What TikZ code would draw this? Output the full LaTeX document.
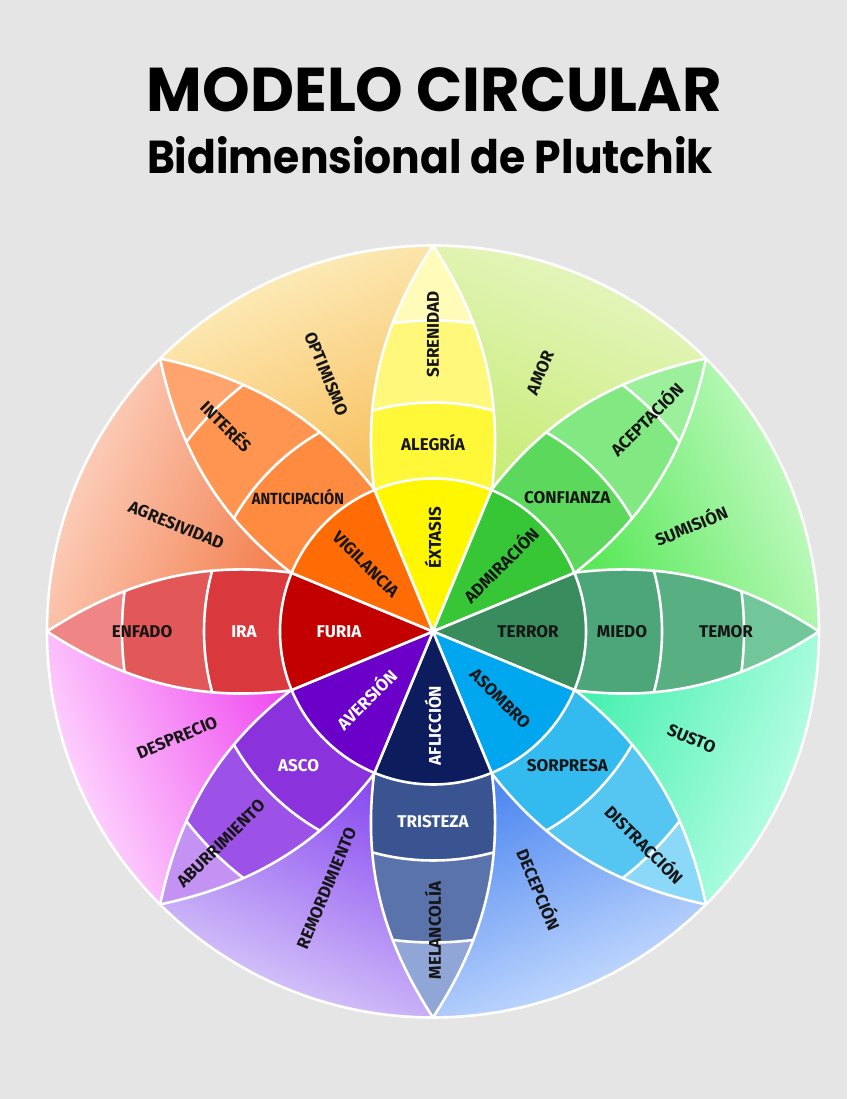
\documentclass[tikz,border=0pt]{standalone}
\usepackage{fontspec}
\usepackage{graphicx}
\newfontfamily\titlefont{Poppins}
\newfontfamily\labfont{Fira Sans}
\definecolor{bg}{HTML}{E5E5E5}
\definecolor{labdark}{HTML}{161616}
\definecolor{yA}{HTML}{FFF700}\definecolor{yB}{HTML}{FFF838}\definecolor{yC}{HTML}{FFF87A}\definecolor{yD}{HTML}{FFFBB8}
\definecolor{oA}{HTML}{FF6C05}\definecolor{oB}{HTML}{FF8B40}\definecolor{oC}{HTML}{FF9550}\definecolor{oD}{HTML}{FFA46C}
\definecolor{rA}{HTML}{C20000}\definecolor{rB}{HTML}{D9393C}\definecolor{rC}{HTML}{E25858}\definecolor{rD}{HTML}{F08585}
\definecolor{pA}{HTML}{6B00C9}\definecolor{pB}{HTML}{8A33DC}\definecolor{pC}{HTML}{9C52E6}\definecolor{pD}{HTML}{C392F2}
\definecolor{nA}{HTML}{0D1C5C}\definecolor{nB}{HTML}{3A5491}\definecolor{nC}{HTML}{5A74AB}\definecolor{nD}{HTML}{90A6D6}
\definecolor{bA}{HTML}{00A6EE}\definecolor{bB}{HTML}{33BBF0}\definecolor{bC}{HTML}{55C6F2}\definecolor{bD}{HTML}{8CD8F8}
\definecolor{dA}{HTML}{388C5E}\definecolor{dB}{HTML}{4DA679}\definecolor{dC}{HTML}{58AF82}\definecolor{dD}{HTML}{72C79A}
\definecolor{gA}{HTML}{36C636}\definecolor{gB}{HTML}{5CD95C}\definecolor{gC}{HTML}{82E882}\definecolor{gD}{HTML}{9CF09C}
% dyad colours: inner / outer
\definecolor{amI}{HTML}{C8EC78}\definecolor{amO}{HTML}{E8F6C4}
\definecolor{suI}{HTML}{58E858}\definecolor{suO}{HTML}{CCFCCC}
\definecolor{stI}{HTML}{48F0B0}\definecolor{stO}{HTML}{C4FFEA}
\definecolor{deI}{HTML}{4F88F0}\definecolor{deO}{HTML}{CFE2FF}
\definecolor{reI}{HTML}{8A4CF0}\definecolor{reO}{HTML}{DDD2FA}
\definecolor{dsI}{HTML}{F050F0}\definecolor{dsO}{HTML}{FFE4FF}
\definecolor{agI}{HTML}{F38050}\definecolor{agO}{HTML}{FDD8C8}
\definecolor{opI}{HTML}{F8C060}\definecolor{opO}{HTML}{FDF0C2}
\begin{document}
\begin{tikzpicture}[x=1pt,y=1pt,
  wl/.style={white, line width=2.6pt, line join=round},
  lab/.style={font=\labfont\bfseries\fontsize{17}{19}\selectfont, text=labdark, inner sep=0pt},
  labw/.style={lab, text=white}]
\fill[bg] (0,0) rectangle (847,1099);
\useasboundingbox (0,0) rectangle (847,1099);
% title
\node[anchor=base, inner sep=0pt] (title) at (434.5,987) {\resizebox{575pt}{44pt}{\titlefont\bfseries MODELO CIRCULAR}};
\node[anchor=base, inner sep=0pt] (subtitle) at (430,925) {\resizebox{566pt}{37pt}{\titlefont\bfseries Bidimensional de Plutchik}};
\begin{scope}[shift={(433,467.5)}]
% dyad regions
\foreach \b/\ci/\co in {67.5/amI/amO, 22.5/suI/suO, -22.5/stI/stO, -67.5/deI/deO, -112.5/reI/reO, -157.5/dsI/dsO, 157.5/agI/agO, 112.5/opI/opO}{
  \pgfmathsetmacro\sa{\b-90}
  \shade[top color=\co, bottom color=\ci, shading angle=\sa]
    (\b:154) .. controls +(\b-15.5:86) and +(\b+124.5:100) .. (\b-22.5:386)
    arc[start angle=\b-22.5, end angle=\b+22.5, radius=386]
    .. controls +(\b-124.5:100) and +(\b+15.5:86) .. (\b:154) -- cycle;
}
% petals
\foreach \a/\ca/\cb/\cc/\cd in {90/yA/yB/yC/yD, 45/gA/gB/gC/gD, 0/dA/dB/dC/dD, -45/bA/bB/bC/bD, -90/nA/nB/nC/nD, -135/pA/pB/pC/pD, 180/rA/rB/rC/rD, 135/oA/oB/oC/oD}{
  \begin{scope}
    \clip (0,0) -- (\a-22.5:154) .. controls +(\a-7:86) and +(\a-147:100) .. (\a:386)
      .. controls +(\a+147:100) and +(\a+7:86) .. (\a+22.5:154) -- cycle;
    \fill[\cd] (0,0) circle[radius=392];
    \fill[\cc] (0,0) circle[radius=311];
    \fill[\cb] (0,0) circle[radius=229];
    \fill[\ca] (0,0) circle[radius=153];
    \draw[wl] (0,0) circle[radius=311] (0,0) circle[radius=229] (0,0) circle[radius=153];
  \end{scope}
  \draw[wl] (0,0) -- (\a-22.5:154) .. controls +(\a-7:86) and +(\a-147:100) .. (\a:386)
      .. controls +(\a+147:100) and +(\a+7:86) .. (\a+22.5:154) -- cycle;
}
\draw[wl] (0,0) circle[radius=386];
% tier 1
\node[lab, rotate=90] (extasis) at (90:94) {ÉXTASIS};
\node[lab, rotate=45] (admiracion) at (45:95) {ADMIRACIÓN};
\node[lab] (terror) at (0:95) {TERROR};
\node[lab, rotate=-45] (asombro) at (-45:95) {ASOMBRO};
\node[labw, rotate=90] (afliccion) at (-90:94) {AFLICCIÓN};
\node[labw, rotate=45] (aversion) at (-135:95) {AVERSIÓN};
\node[labw] (furia) at (180:94) {FURIA};
\node[lab, rotate=-45] (vigilancia) at (135:95) {VIGILANCIA};
% tier 2
\node[lab] (alegria) at (90:189) {ALEGRÍA};
\node[lab] (confianza) at (45:190) {CONFIANZA};
\node[lab] (miedo) at (0:189) {MIEDO};
\node[lab] (sorpresa) at (-45:190) {SORPRESA};
\node[labw] (tristeza) at (-90:190) {TRISTEZA};
\node[labw] (asco) at (-135:190) {ASCO};
\node[labw] (ira) at (180:189) {IRA};
\node[lab] (anticipacion) at (135:191) {\scalebox{0.86}[0.95]{ANTICIPACIÓN}};
% tier 3
\node[lab, rotate=90] (serenidad) at (90:297) {SERENIDAD};
\node[lab, rotate=45] (aceptacion) at (45:301) {ACEPTACIÓN};
\node[lab] (temor) at (0:293) {TEMOR};
\node[lab, rotate=-45] (distraccion) at (-45:300) {DISTRACCIÓN};
\node[lab, rotate=90] (melancolia) at (-90:299) {MELANCOLÍA};
\node[lab, rotate=45] (aburrimiento) at (-135:300) {ABURRIMIENTO};
\node[lab] (enfado) at (180:291) {ENFADO};
\node[lab, rotate=-45] (interes) at (135:291) {INTERÉS};
% dyads
\node[lab, rotate=67.5] (amor) at (67.5:280) {AMOR};
\node[lab, rotate=22.5] (sumision) at (22.5:279) {SUMISIÓN};
\node[lab, rotate=-22.5] (susto) at (-22.5:280) {SUSTO};
\node[lab, rotate=-67.5] (decepcion) at (-67.5:279) {DECEPCIÓN};
\node[lab, rotate=67.5] (remordimiento) at (-112.5:278) {REMORDIMIENTO};
\node[lab, rotate=22.5] (desprecio) at (-157.5:277) {DESPRECIO};
\node[lab, rotate=-22.5] (agresividad) at (157.5:278) {AGRESIVIDAD};
\node[lab, rotate=-67.5] (optimismo) at (112.5:279) {OPTIMISMO};
\end{scope}
\end{tikzpicture}
\end{document}
